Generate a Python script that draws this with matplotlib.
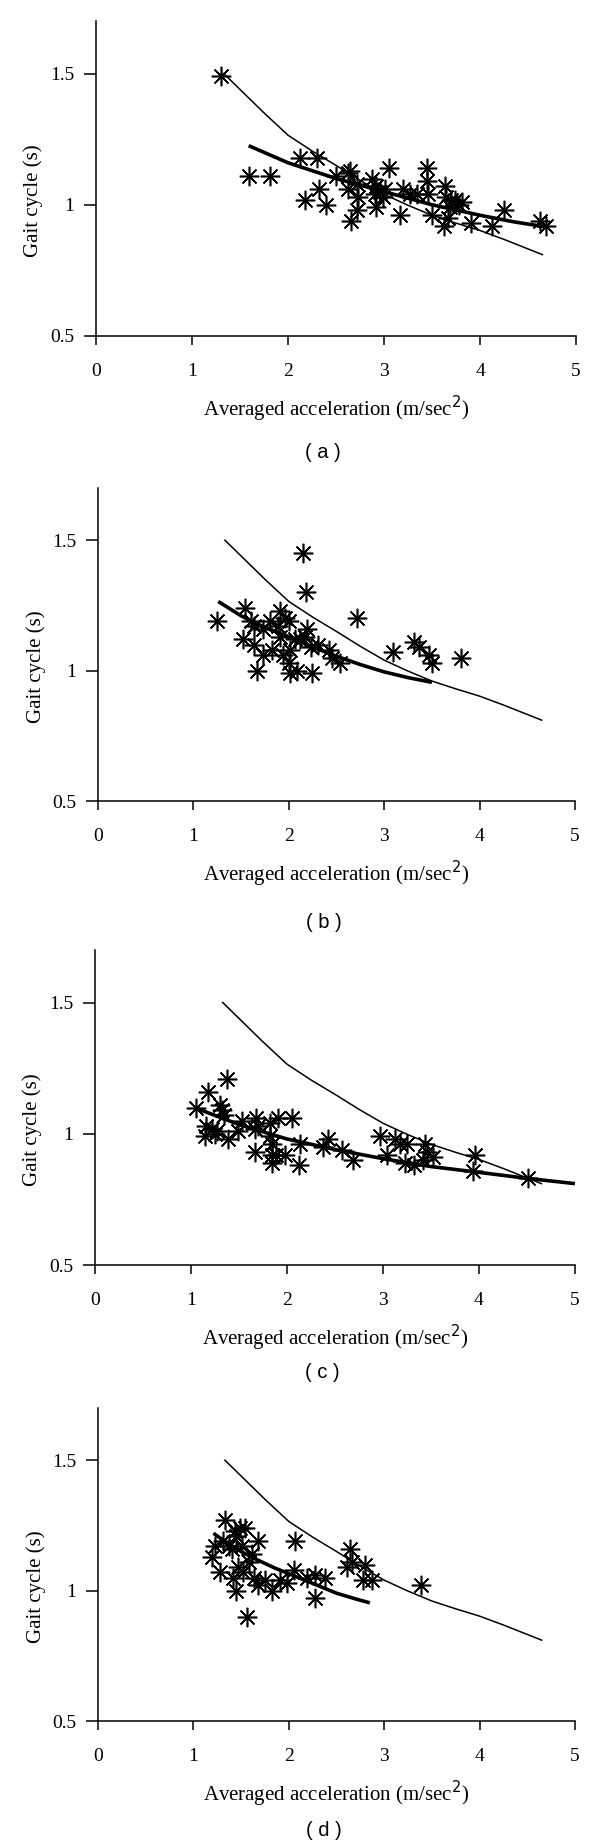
import matplotlib
matplotlib.use("Agg")
import matplotlib.pyplot as plt

plt.rcParams['font.family'] = ['Liberation Serif', 'DejaVu Serif']

# reference curve (same in every panel)
ref_x = [1.33, 1.75, 2.0, 2.25, 2.5, 2.75, 3.0, 3.25, 3.5, 3.75, 4.0, 4.25, 4.65]
ref_y = [1.50, 1.35, 1.265, 1.205, 1.15, 1.093, 1.04, 0.998, 0.96, 0.93, 0.902, 0.868, 0.81]

# (a)
a_x = [1.30, 1.59, 1.81, 2.12, 2.30, 2.32, 2.18, 2.40, 2.50, 2.65, 2.62, 2.72, 2.63,
       2.73, 2.72, 2.66, 2.87, 2.92, 2.91, 2.96, 3.01, 2.99, 2.92, 3.05, 3.20, 3.27,
       3.17, 3.34, 3.45, 3.45, 3.46, 3.50, 3.64, 3.65, 3.70, 3.74, 3.78, 3.81, 3.69,
       3.67, 3.63, 3.91, 4.12, 4.25, 4.62, 4.69]
a_y = [1.49, 1.11, 1.11, 1.18, 1.18, 1.06, 1.02, 1.00, 1.11, 1.13, 1.12, 1.08, 1.06,
       1.03, 0.98, 0.94, 1.10, 1.07, 1.04, 1.05, 1.06, 1.03, 0.99, 1.14, 1.06, 1.04,
       0.96, 1.04, 1.14, 1.09, 1.04, 0.96, 1.07, 1.03, 1.02, 1.02, 1.00, 1.01, 0.99,
       0.95, 0.92, 0.93, 0.92, 0.98, 0.94, 0.92]
a_fit_x = [1.59, 2.0, 2.5, 3.0, 3.5, 4.0, 4.35, 4.7]
a_fit_y = [1.225, 1.16, 1.10, 1.05, 1.00, 0.96, 0.935, 0.915]

# (b)
b_x = [2.15, 2.18, 2.72, 1.25, 1.54, 1.60, 1.63, 1.52, 1.63, 1.73, 1.80, 1.91, 1.89,
       1.96, 2.00, 1.91, 1.82, 1.73, 1.94, 2.01, 2.07, 2.12, 2.19, 2.17, 2.23, 2.31,
       2.42, 2.45, 2.54, 1.67, 2.00, 2.01, 2.09, 2.24, 3.09, 3.31, 3.36, 3.47, 3.50, 3.81]
b_y = [1.45, 1.30, 1.20, 1.19, 1.24, 1.19, 1.17, 1.12, 1.10, 1.16, 1.19, 1.23, 1.17,
       1.20, 1.19, 1.13, 1.08, 1.06, 1.06, 1.08, 1.12, 1.12, 1.16, 1.13, 1.09, 1.10,
       1.08, 1.05, 1.03, 1.00, 1.03, 0.99, 1.00, 0.99, 1.07, 1.11, 1.09, 1.06, 1.03, 1.05]
b_fit_x = [1.26, 1.5, 1.75, 2.0, 2.25, 2.5, 2.75, 3.0, 3.25, 3.5]
b_fit_y = [1.265, 1.21, 1.165, 1.13, 1.09, 1.055, 1.023, 0.995, 0.973, 0.955]

# (c)
c_x = [1.37, 1.18, 1.05, 1.30, 1.32, 1.34, 1.16, 1.22, 1.27, 1.15, 1.25, 1.39, 1.49,
       1.53, 1.68, 1.70, 1.67, 1.82, 1.91, 2.05, 1.82, 1.84, 1.67, 1.84, 1.89, 1.84,
       1.98, 2.14, 2.12, 2.43, 2.38, 2.57, 2.69, 2.97, 3.13, 3.18, 3.25, 3.04, 3.23,
       3.32, 3.44, 3.46, 3.52, 3.42, 3.96, 3.94, 4.51]
c_y = [1.21, 1.16, 1.10, 1.11, 1.09, 1.07, 1.03, 1.02, 1.01, 0.99, 1.00, 0.98, 1.01,
       1.05, 1.06, 1.03, 1.02, 1.04, 1.06, 1.06, 0.99, 0.96, 0.93, 0.92, 0.92, 0.89,
       0.92, 0.96, 0.88, 0.98, 0.95, 0.94, 0.90, 0.99, 0.98, 0.96, 0.96, 0.92, 0.89,
       0.88, 0.96, 0.93, 0.91, 0.90, 0.92, 0.86, 0.83]
c_fit_x = [1.07, 1.5, 2.0, 2.5, 3.0, 3.5, 4.0, 4.5, 5.0]
c_fit_y = [1.095, 1.035, 0.98, 0.94, 0.905, 0.875, 0.853, 0.83, 0.81]

# (d)
d_x = [1.33, 1.44, 1.49, 1.54, 1.45, 1.23, 1.31, 1.19, 1.37, 1.40, 1.51, 1.68, 2.07,
       1.61, 1.58, 1.47, 1.52, 1.28, 1.42, 1.63, 1.45, 1.68, 1.75, 1.82, 1.91, 1.98,
       2.05, 2.19, 2.27, 2.38, 2.27, 1.56, 2.64, 2.66, 2.61, 2.80, 2.78, 2.87, 3.39]
d_y = [1.27, 1.23, 1.24, 1.24, 1.21, 1.17, 1.19, 1.13, 1.17, 1.16, 1.17, 1.19, 1.19,
       1.14, 1.11, 1.09, 1.07, 1.07, 1.05, 1.05, 1.00, 1.02, 1.04, 1.00, 1.04, 1.03,
       1.08, 1.05, 1.06, 1.05, 0.97, 0.90, 1.16, 1.11, 1.09, 1.10, 1.04, 1.04, 1.02]
d_fit_x = [1.21, 1.4, 1.6, 1.85, 2.1, 2.3, 2.5, 2.7, 2.85]
d_fit_y = [1.22, 1.17, 1.13, 1.087, 1.05, 1.02, 0.99, 0.968, 0.953]

panels = [
    ("( a )", a_x, a_y, a_fit_x, a_fit_y),
    ("( b )", b_x, b_y, b_fit_x, b_fit_y),
    ("( c )", c_x, c_y, c_fit_x, c_fit_y),
    ("( d )", d_x, d_y, d_fit_x, d_fit_y),
]

W, H = 600, 1843
# axes boxes in pixels: left, right, top, bottom
boxes = [(96, 576, 21, 336), (98, 575, 488, 801), (95, 575, 950, 1265), (98, 575, 1408, 1721)]
label_y = [452, 922, 1372, 1830]

fig = plt.figure(figsize=(W / 100, H / 100), dpi=100)

for (tag, px, py, fx, fy), (l, r, t, b), ly in zip(panels, boxes, label_y):
    ax = fig.add_axes([l / W, 1 - b / H, (r - l) / W, (b - t) / H])
    ax.plot(ref_x, ref_y, color='black', lw=1.1)
    ax.plot(fx, fy, color='black', lw=2.6, solid_capstyle='butt')
    ax.plot(px, py, ls='none', marker=(8, 2, 0), ms=14, mew=1.15,
            color='black', clip_on=False)
    ax.set_xlim(0, 5)
    ax.set_ylim(0.5, 1.7)
    ax.set_xticks([0, 1, 2, 3, 4, 5])
    ax.set_yticks([0.5, 1, 1.5])
    ax.set_yticklabels(["0.5", "1", "1.5"])
    ax.spines['top'].set_visible(False)
    ax.spines['right'].set_visible(False)
    for s in ['left', 'bottom']:
        ax.spines[s].set_linewidth(1.1)
    ax.tick_params(axis='x', direction='out', length=6.5, width=1.1, pad=13, labelsize=14)
    ax.tick_params(axis='y', direction='out', length=8.5, width=1.1, pad=7, labelsize=14)
    ax.set_xlabel("Averaged acceleration (m/sec$^2$)", fontsize=15, labelpad=10)
    ax.set_ylabel("Gait cycle (s)", fontsize=15)
    ax.yaxis.set_label_coords(-0.11, 0.43)
    fig.text(((l + r) / 2 - 13) / W, 1 - ly / H, tag, ha='center', va='center',
             fontsize=14.5, family=['Liberation Sans', 'DejaVu Sans'])

fig.savefig("out.png", dpi=100)
